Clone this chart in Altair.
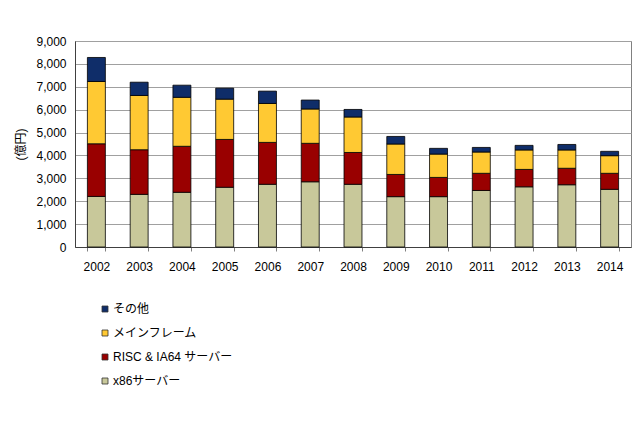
import altair as alt
import pandas as pd

years = ["2002","2003","2004","2005","2006","2007","2008","2009","2010","2011","2012","2013","2014"]
series = ["その他", "メインフレーム", "RISC & IA64 サーバー", "x86サーバー"]
x86 = [2210, 2300, 2390, 2610, 2740, 2850, 2740, 2200, 2200, 2470, 2630, 2720, 2520]
risc = [2300, 1950, 2010, 2090, 1830, 1680, 1390, 970, 840, 750, 760, 720, 700]
mainframe = [2720, 2370, 2140, 1760, 1700, 1500, 1550, 1330, 1020, 930, 850, 800, 770]
other = [1050, 580, 530, 480, 540, 390, 330, 330, 250, 200, 200, 240, 190]
colors = ["#0F2D69", "#FFC933", "#990000", "#C8C89A"]

rows = []
for name, vals, order in [("x86サーバー", x86, 0), ("RISC & IA64 サーバー", risc, 1),
                          ("メインフレーム", mainframe, 2), ("その他", other, 3)]:
    for y, v in zip(years, vals):
        rows.append({"year": y, "series": name, "value": v, "ord": order})
df = pd.DataFrame(rows)

FONT = "Liberation Sans, Noto Sans CJK JP"

chart = alt.Chart(df).mark_bar(stroke="#000000", strokeWidth=0.8).encode(
    x=alt.X("year:N", sort=years,
            scale=alt.Scale(paddingInner=0.58, paddingOuter=0.29),
            axis=alt.Axis(title=None, labelAngle=0, labelFontSize=12, labelPadding=10,
                          tickBand="extent", tickSize=4, tickColor="#808080",
                          domainColor="#404040", labelColor="#000000")),
    y=alt.Y("value:Q", stack="zero",
            scale=alt.Scale(domain=[0, 9000], nice=False),
            axis=alt.Axis(title="(億円)", values=list(range(0, 9001, 1000)), format=",d",
                          labelFontSize=12, titleFontSize=12, titleFontWeight="normal",
                          titlePadding=8, tickSize=0, labelPadding=9,
                          gridColor="#A0A0A0", domainColor="#404040",
                          labelColor="#000000", titleColor="#000000")),
    color=alt.Color("series:N",
                    scale=alt.Scale(domain=series, range=colors),
                    legend=alt.Legend(title=None, orient="none", legendX=24, legendY=262,
                                      symbolType="square", symbolSize=36,
                                      symbolStrokeColor="#333333", symbolStrokeWidth=0.8,
                                      labelFontSize=12, rowPadding=12, labelOffset=2,
                                      labelColor="#000000")),
    order=alt.Order("ord:Q", sort="ascending"),
).properties(
    width=556, height=206,
    autosize=alt.AutoSizeParams(type="none"),
    padding={"left": 67, "top": 33, "right": 1, "bottom": 163},
).configure(font=FONT).configure_view(stroke="#808080", strokeWidth=1)

chart.save("out.html", embed_options={"renderer": "svg", "actions": False})
